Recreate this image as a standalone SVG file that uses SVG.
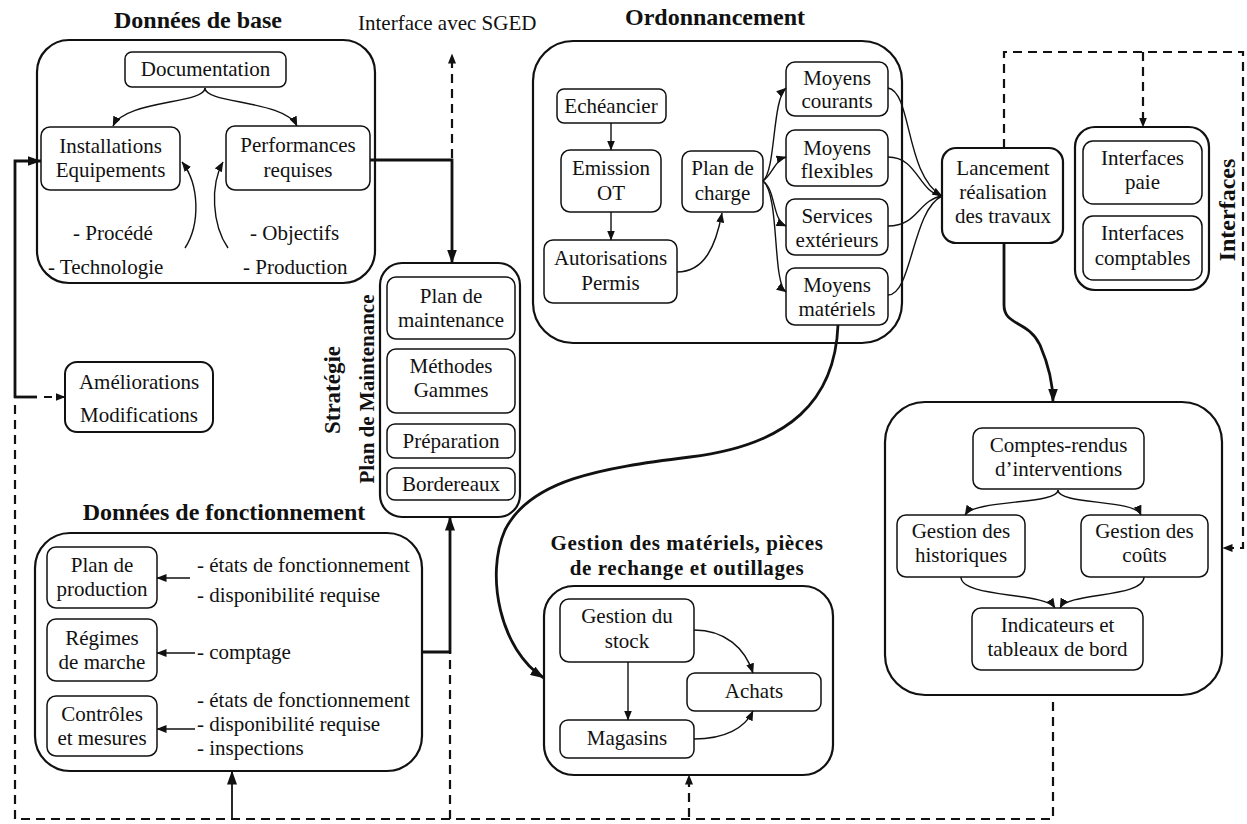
<svg xmlns="http://www.w3.org/2000/svg" width="1247" height="824" viewBox="0 0 1247 824">
<style>
.bg{fill:#fff}
.ob{fill:none;stroke:#111;stroke-width:2.2}
.ib{fill:#fff;stroke:#111;stroke-width:1.5}
.t{font-family:"Liberation Serif","Times New Roman",serif;font-size:21px;fill:#111;text-anchor:middle}
.tl{font-family:"Liberation Serif","Times New Roman",serif;font-size:21px;fill:#111;text-anchor:start}
.h{font-family:"Liberation Serif","Times New Roman",serif;font-size:24px;font-weight:bold;fill:#111;text-anchor:middle}
.thin{fill:none;stroke:#111;stroke-width:1.4}
.thick{fill:none;stroke:#111;stroke-width:2.8}
.dash{fill:none;stroke:#111;stroke-width:2.2;stroke-dasharray:9 6}
</style>
<defs>
<marker id="a" viewBox="0 0 10 8" refX="9.5" refY="4" markerWidth="10" markerHeight="8" markerUnits="userSpaceOnUse" orient="auto">
<path d="M0,0 L10,4 L0,8 z" fill="#111"/>
</marker>
<marker id="A" viewBox="0 0 14 10" refX="13.5" refY="5" markerWidth="14" markerHeight="10" markerUnits="userSpaceOnUse" orient="auto">
<path d="M0,0 L14,5 L0,10 z" fill="#111"/>
</marker>
</defs>
<rect class="bg" x="0" y="0" width="1247" height="824"/>

<g id="donnees-base">
<text class="h" x="198" y="28">Données de base</text>
<rect class="ob" x="37" y="40" width="338" height="243" rx="32"/>
<rect class="ib" x="125" y="52" width="161" height="35" rx="7"/>
<text class="t" x="205.5" y="76">Documentation</text>
<rect class="ib" x="41" y="127" width="139" height="63" rx="9"/>
<text class="t" x="110.5" y="153">Installations</text>
<text class="t" x="110.5" y="177">Equipements</text>
<rect class="ib" x="226" y="126" width="144" height="64" rx="9"/>
<text class="t" x="298" y="152">Performances</text>
<text class="t" x="298" y="177">requises</text>
<text class="tl" x="73" y="240">- Procédé</text>
<text class="tl" x="48" y="274">- Technologie</text>
<text class="tl" x="250" y="240">- Objectifs</text>
<text class="tl" x="243" y="274">- Production</text>
<path class="thin" d="M205,88 C205,104 125,100 113,126" marker-end="url(#a)"/>
<path class="thin" d="M205,88 C205,104 285,100 297,126" marker-end="url(#a)"/>
<path class="thin" d="M185,248 C200,225 200,185 182,162" marker-end="url(#a)"/>
<path class="thin" d="M228,248 C212,225 210,185 223,162" marker-end="url(#a)"/>
</g>

<text class="tl" x="358" y="30">Interface avec SGED</text>

<g id="ameliorations">
<rect class="ib" x="65" y="362" width="148" height="70" rx="12" style="stroke-width:2"/>
<text class="t" x="139" y="389">Améliorations</text>
<text class="t" x="139" y="422">Modifications</text>
</g>

<g id="plan-maintenance">
<text class="h" transform="translate(340,390) rotate(-90)" style="font-size:23px">Stratégie</text>
<text class="h" transform="translate(374,389) rotate(-90)" style="font-size:21px">Plan de Maintenance</text>
<rect class="ob" x="380" y="263" width="140" height="254" rx="22"/>
<rect class="ib" x="387" y="277" width="128" height="62" rx="9"/>
<text class="t" x="451" y="303">Plan de</text>
<text class="t" x="451" y="327">maintenance</text>
<rect class="ib" x="387" y="349" width="128" height="64" rx="9"/>
<text class="t" x="451" y="373">Méthodes</text>
<text class="t" x="451" y="397">Gammes</text>
<rect class="ib" x="387" y="424" width="128" height="34" rx="8"/>
<text class="t" x="451" y="448">Préparation</text>
<rect class="ib" x="387" y="468" width="128" height="32" rx="8"/>
<text class="t" x="451" y="491">Bordereaux</text>
</g>

<g id="ordonnancement">
<text class="h" x="715" y="25">Ordonnancement</text>
<rect class="ob" x="533" y="41" width="369" height="302" rx="40"/>
<rect class="ib" x="557" y="89" width="109" height="34" rx="7"/>
<text class="t" x="611" y="113">Echéancier</text>
<rect class="ib" x="561" y="150" width="100" height="62" rx="9"/>
<text class="t" x="611" y="175">Emission</text>
<text class="t" x="611" y="200">OT</text>
<rect class="ib" x="544" y="240" width="133" height="63" rx="9"/>
<text class="t" x="610.5" y="265">Autorisations</text>
<text class="t" x="610.5" y="290">Permis</text>
<rect class="ib" x="682" y="151" width="81" height="61" rx="9"/>
<text class="t" x="722.5" y="175">Plan de</text>
<text class="t" x="722.5" y="200">charge</text>
<rect class="ib" x="786" y="62" width="102" height="54" rx="9"/>
<text class="t" x="837" y="85">Moyens</text>
<text class="t" x="837" y="108">courants</text>
<rect class="ib" x="786" y="130" width="102" height="56" rx="9"/>
<text class="t" x="837" y="155">Moyens</text>
<text class="t" x="837" y="178">flexibles</text>
<rect class="ib" x="786" y="199" width="102" height="56" rx="9"/>
<text class="t" x="837" y="223">Services</text>
<text class="t" x="837" y="247">extérieurs</text>
<rect class="ib" x="786" y="268" width="102" height="57" rx="9"/>
<text class="t" x="837" y="292">Moyens</text>
<text class="t" x="837" y="316">matériels</text>
<path class="thin" d="M611,123 L611,150" marker-end="url(#a)"/>
<path class="thin" d="M611,212 L611,240" marker-end="url(#a)"/>
<path class="thin" d="M677,272 C705,272 716,245 722,213" marker-end="url(#a)"/>
<path class="thin" d="M763,181 C776,170 772,100 786,88" marker-end="url(#a)"/>
<path class="thin" d="M763,181 C772,175 775,160 786,157" marker-end="url(#a)"/>
<path class="thin" d="M763,181 C776,190 772,220 786,226" marker-end="url(#a)"/>
<path class="thin" d="M763,181 C780,195 772,282 786,292" marker-end="url(#a)"/>
</g>

<g id="lancement">
<rect class="ob" x="942" y="148" width="121" height="95" rx="14"/>
<text class="t" x="1003" y="175">Lancement</text>
<text class="t" x="1003" y="199">réalisation</text>
<text class="t" x="1003" y="223">des travaux</text>
</g>

<g id="interfaces">
<text class="h" transform="translate(1235,210) rotate(-90)">Interfaces</text>
<rect class="ob" x="1075" y="127" width="134" height="163" rx="20"/>
<rect class="ib" x="1083" y="141" width="119" height="63" rx="10"/>
<text class="t" x="1142.5" y="165">Interfaces</text>
<text class="t" x="1142.5" y="189">paie</text>
<rect class="ib" x="1083" y="216" width="119" height="64" rx="10"/>
<text class="t" x="1142.5" y="240">Interfaces</text>
<text class="t" x="1142.5" y="265">comptables</text>
</g>

<g id="suivi">
<rect class="ob" x="885" y="402" width="337" height="293" rx="40"/>
<rect class="ib" x="973" y="428" width="171" height="61" rx="9"/>
<text class="t" x="1058.5" y="452">Comptes-rendus</text>
<text class="t" x="1058.5" y="476">d’interventions</text>
<rect class="ib" x="897" y="515" width="128" height="62" rx="9"/>
<text class="t" x="961" y="538">Gestion des</text>
<text class="t" x="961" y="562">historiques</text>
<rect class="ib" x="1081" y="515" width="127" height="62" rx="9"/>
<text class="t" x="1144.5" y="538">Gestion des</text>
<text class="t" x="1144.5" y="562">coûts</text>
<rect class="ib" x="972" y="608" width="171" height="62" rx="9"/>
<text class="t" x="1057.5" y="632">Indicateurs et</text>
<text class="t" x="1057.5" y="656">tableaux de bord</text>
<path class="thin" d="M1058,490 C1058,505 975,499 965,515" marker-end="url(#a)"/>
<path class="thin" d="M1058,490 C1058,505 1135,499 1141,515" marker-end="url(#a)"/>
<path class="thin" d="M961,577 C961,598 1045,592 1055,608" marker-end="url(#a)"/>
<path class="thin" d="M1144,577 C1144,598 1068,592 1060,608" marker-end="url(#a)"/>
</g>

<g id="gestion-materiels">
<text class="h" x="687" y="550" style="font-size:21px;letter-spacing:0.6px">Gestion des matériels, pièces</text>
<text class="h" x="687" y="575" style="font-size:21px;letter-spacing:0.6px">de rechange et outillages</text>
<rect class="ob" x="544" y="586" width="289" height="189" rx="30"/>
<rect class="ib" x="560" y="599" width="134" height="63" rx="9"/>
<text class="t" x="627" y="623">Gestion du</text>
<text class="t" x="627" y="648">stock</text>
<rect class="ib" x="687" y="673" width="134" height="38" rx="8"/>
<text class="t" x="754" y="698">Achats</text>
<rect class="ib" x="560" y="720" width="134" height="38" rx="8"/>
<text class="t" x="627" y="745">Magasins</text>
<path class="thin" d="M628,662 L628,720" marker-end="url(#a)"/>
<path class="thin" d="M694,630 C725,630 745,648 753,673" marker-end="url(#a)"/>
<path class="thin" d="M694,739 C725,739 745,728 753,711" marker-end="url(#a)"/>
</g>

<g id="donnees-fonctionnement">
<text class="h" x="224" y="520">Données de fonctionnement</text>
<rect class="ob" x="35" y="533" width="387" height="238" rx="35"/>
<rect class="ib" x="47" y="547" width="110" height="61" rx="9"/>
<text class="t" x="102" y="572">Plan de</text>
<text class="t" x="102" y="596">production</text>
<rect class="ib" x="47" y="619" width="110" height="62" rx="9"/>
<text class="t" x="102" y="645">Régimes</text>
<text class="t" x="102" y="669">de marche</text>
<rect class="ib" x="47" y="696" width="110" height="60" rx="9"/>
<text class="t" x="102" y="721">Contrôles</text>
<text class="t" x="102" y="745">et mesures</text>
<text class="tl" x="197" y="572">- états de fonctionnement</text>
<text class="tl" x="197" y="602">- disponibilité requise</text>
<text class="tl" x="197" y="659">- comptage</text>
<text class="tl" x="197" y="707">- états de fonctionnement</text>
<text class="tl" x="197" y="731">- disponibilité requise</text>
<text class="tl" x="197" y="755">- inspections</text>
<path class="thin" d="M190,578 L157,578" marker-end="url(#a)"/>
<path class="thin" d="M195,653 L157,653" marker-end="url(#a)"/>
<path class="thin" d="M195,729 L157,729" marker-end="url(#a)"/>
</g>

<g id="connectors">
<path class="thick" d="M370,160 L452,160 L452,263" marker-end="url(#A)"/>
<path class="dash" d="M452,158 L452,54" marker-end="url(#a)"/>
<path class="thick" d="M15,398 L15,161 L41,161" marker-end="url(#A)"/>
<path class="thick" d="M14,397 L37,397"/>
<path class="dash" d="M44,397 L65,397" marker-end="url(#a)" style="stroke-dasharray:8 4"/>
<path class="dash" d="M15,405 L15,819 L1053,819 L1053,695"/>
<path class="thin" d="M232,819 L232,771" marker-end="url(#A)" style="stroke-width:1.8"/>
<path class="dash" d="M450,819 L450,652"/>
<path class="thick" d="M422,652 L450,652 L450,517" marker-end="url(#A)"/>
<path class="dash" d="M689,817 L689,775" marker-end="url(#a)"/>
<path class="dash" d="M1004,148 L1004,52 L1243,52 L1243,548 L1223,548" marker-end="url(#a)"/>
<path class="dash" d="M1143,52 L1143,127" marker-end="url(#a)"/>
<path class="thin" d="M888,88 C912,92 905,175 942,196" marker-end="url(#a)"/>
<path class="thin" d="M888,157 C918,157 918,192 942,196"/>
<path class="thin" d="M888,226 C918,226 918,200 942,196"/>
<path class="thin" d="M888,295 C912,295 912,210 942,196"/>
<path class="thick" d="M838,325 C835,400 790,445 690,457 C600,468 530,480 505,530 C485,575 500,650 544,678" marker-end="url(#A)"/>
<path class="thick" d="M1004,243 L1004,305 C1004,326 1028,320 1040,345 C1049,366 1053,385 1053,402" marker-end="url(#A)"/>
</g>
</svg>
